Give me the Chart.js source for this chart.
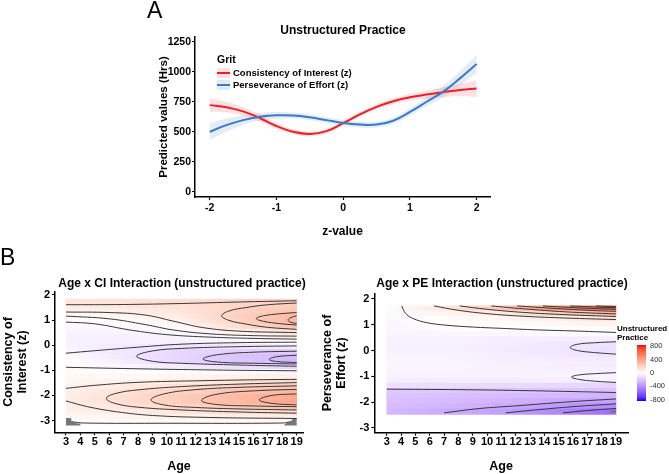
<!DOCTYPE html>
<html>
<head>
<meta charset="utf-8">
<title>Unstructured practice and grit</title>
<script src="https://cdn.jsdelivr.net/npm/chart.js@4.4.1/dist/chart.umd.min.js"></script>
<style>
  body { margin: 0; background: #fff; }
  #fig { position: relative; width: 669px; height: 474px; overflow: hidden; background: #fff;
         font-family: "Liberation Sans", Arial, sans-serif; color: #000; }
  #fig canvas { position: absolute; left: 0; top: 0; }
  .lbl { position: absolute; white-space: nowrap; line-height: 1; }
  .c { transform: translate(-50%, -50%); }
  .v { transform: translateY(-50%); }
  .b { font-weight: bold; }
</style>
</head>
<body>
<div id="fig">
  <canvas id="chartA" width="669" height="474"></canvas>
  <canvas id="chartCI" width="669" height="474"></canvas>
  <canvas id="chartPE" width="669" height="474"></canvas>

  <div class="lbl" style="left:147px;top:-1px;font-size:23px">A</div>
  <div class="lbl c b" style="left:343px;top:30px;font-size:12px">Unstructured Practice</div>
  <div class="lbl v b" style="left:217px;top:59px;font-size:10.5px">Grit</div>
  <div style="position:absolute;left:217px;top:68px;width:13px;height:10px;background:#fbe0e2"></div>
  <div style="position:absolute;left:217px;top:72px;width:13px;height:2px;background:#e8202a"></div>
  <div class="lbl v b" style="left:233px;top:73px;font-size:9.5px">Consistency of Interest (z)</div>
  <div style="position:absolute;left:217px;top:80px;width:13px;height:10px;background:#e0eaf5"></div>
  <div style="position:absolute;left:217px;top:84px;width:13px;height:2px;background:#3a7bc4"></div>
  <div class="lbl v b" style="left:233px;top:85px;font-size:9.5px">Perseverance of Effort (z)</div>

  <div class="lbl" style="left:0px;top:246px;font-size:23px">B</div>
  <div class="lbl c b" style="left:182px;top:283px;font-size:12px">Age x CI Interaction (unstructured practice)</div>
  <div class="lbl c b" style="left:502px;top:283px;font-size:12px">Age x PE Interaction (unstructured practice)</div>

  <div class="lbl v b" style="left:617px;top:329px;font-size:8px">Unstructured</div>
  <div class="lbl v b" style="left:617px;top:337.5px;font-size:8px">Practice</div>
  <div id="cbar" style="position:absolute;left:637px;top:345px;width:9px;height:56px"></div>
  <div id="cbarTicks"></div>
</div>

<script>
// -------------------------------------------------------
// PANEL A DATA (predicted hours by grit z-value)
const zValues = [-2, -1.75, -1.5, -1.25, -1, -0.75, -0.5, -0.25, 0, 0.25, 0.5, 0.75, 1, 1.25, 1.5, 1.75, 2];
const ciMean  = [722, 705, 670, 615, 548, 500, 482, 505, 572, 645, 708, 755, 787, 810, 830, 848, 860];
const ciUpper = [777, 750, 705, 645, 573, 522, 502, 525, 592, 665, 730, 780, 815, 842, 870, 900, 930];
const ciLower = [667, 660, 635, 585, 523, 478, 462, 485, 552, 625, 686, 730, 759, 778, 790, 796, 790];
const peMean  = [500, 555, 597, 625, 637, 635, 620, 597, 573, 560, 560, 592, 665, 750, 835, 945, 1065];
const peUpper = [570, 610, 637, 657, 665, 660, 644, 621, 598, 584, 584, 618, 695, 788, 883, 1005, 1140];
const peLower = [430, 500, 557, 593, 609, 610, 596, 573, 548, 536, 536, 566, 635, 712, 787, 885, 990];
const zTicksA = [-2, -1, 0, 1, 2];
const hrsTicks = [0, 250, 500, 750, 1000, 1250];

// -------------------------------------------------------
// PANEL B DATA (surface of predicted hours, age x grit)
const ageTicks = [3, 4, 5, 6, 7, 8, 9, 10, 11, 12, 13, 14, 15, 16, 17, 18, 19];
const zTicksB = [-3, -2, -1, 0, 1, 2];
const gridAges = [3, 7, 11, 15, 19];

// CI surface: one row per z, one array per age column
const ciRowZ = [1.73, 1.53, 1.33, 1.13, 0.93, 0.73, 0.53, 0.33, 0.13, -0.07, -0.27, -0.47, -0.67,
                -0.87, -1.07, -1.27, -1.47, -1.67, -1.87, -2.07, -2.27, -2.47, -2.67, -2.87, -3.07];
const ciAge3  = [110, 80, 50, 25, 0, -25, -40, -50, -50, -45, -30, -15, 0, 15, 25, 35, 45, 55, 65, 75, 80, 70, 55, 35, 15];
const ciAge7  = [120, 100, 70, 40, 10, -20, -40, -50, -55, -70, -80, -80, -60, -30, 5, 30, 60, 90, 120, 140, 140, 110, 80, 45, 20];
const ciAge11 = [140, 130, 110, 90, 60, 20, -20, -40, -50, -90, -140, -150, -140, -70, -10, 40, 80, 140, 190, 220, 220, 170, 110, 60, 25];
const ciAge15 = [170, 180, 190, 200, 190, 150, 60, 10, -30, -80, -170, -210, -200, -110, -20, 60, 120, 200, 260, 300, 300, 230, 140, 70, 30];
const ciAge19 = [190, 220, 260, 300, 310, 260, 150, 80, 20, -60, -190, -250, -260, -150, -30, 70, 160, 240, 320, 370, 380, 270, 160, 80, 30];

// PE surface
const peRowZ = [1.63, 1.43, 1.23, 1.03, 0.83, 0.63, 0.43, 0.23, 0.03, -0.17, -0.37, -0.57, -0.77,
                -0.97, -1.17, -1.37, -1.57, -1.77, -1.97, -2.17, -2.37];
const peAge3  = [-10, -20, -25, -30, -35, -40, -45, -50, -50, -45, -40, -38, -40, -45, -60, -110, -190, -210, -220, -235, -250];
const peAge7  = [100, 45, 15, 2, -15, -30, -45, -50, -50, -45, -40, -38, -40, -45, -65, -120, -195, -220, -240, -260, -295];
const peAge11 = [230, 90, 40, 15, -5, -30, -55, -65, -70, -65, -55, -45, -45, -45, -70, -130, -200, -235, -265, -295, -340];
const peAge15 = [450, 200, 70, 30, 5, -25, -60, -80, -85, -80, -65, -55, -50, -40, -60, -140, -205, -250, -310, -360, -430];
const peAge19 = [620, 310, 130, 60, 20, -10, -60, -110, -115, -95, -75, -65, -55, -35, -50, -150, -215, -270, -340, -420, -520];

// contour paths as [age, z] points
const ciContours = [
  [[3, 1.61], [7, 1.62], [11, 1.66], [15, 1.72], [19, 1.77]],
  [[19, 1.68], [17, 1.61], [15.5, 1.5], [14.3, 1.36], [13.8, 1.17], [14.3, 0.99], [15.5, 0.84], [17, 0.71], [19, 0.63]],
  [[19, 1.3], [17.8, 1.25], [16.7, 1.17], [16.2, 1.06], [16.7, 0.95], [17.8, 0.86], [19, 0.8]],
  [[19, 1.17], [18.6, 1.1], [18.4, 1.0], [18.6, 0.91], [19, 0.86]],
  [[3, 1.32], [6, 1.3], [8.5, 1.2], [10.5, 0.95], [12.5, 0.7], [15, 0.56], [19, 0.5]],
  [[3, 1.16], [6, 1.05], [8.5, 0.82], [10.5, 0.6], [13, 0.45], [16, 0.38], [19, 0.36]],
  [[3, 0.92], [5, 0.85], [7.5, 0.6], [10, 0.42], [13, 0.32], [16, 0.27], [19, 0.24]],
  [[3, -0.32], [5, -0.22], [8, -0.08], [11, 0.04], [15, 0.1], [19, 0.12]],
  [[19, -0.03], [15, -0.06], [11, -0.13], [9, -0.23], [7.9, -0.44], [9, -0.64], [11, -0.72], [15, -0.79], [19, -0.84]],
  [[19, -0.24], [16, -0.28], [13.5, -0.38], [12.5, -0.55], [13.5, -0.67], [16, -0.72], [19, -0.75]],
  [[19, -0.4], [17.6, -0.46], [17.1, -0.57], [17.6, -0.65], [19, -0.69]],
  [[3, -0.88], [7, -0.93], [11, -0.97], [15, -1.0], [19, -1.02]],
  [[3, -1.72], [5, -1.6], [8, -1.48], [12, -1.42], [16, -1.38], [19, -1.36]],
  [[19, -1.49], [15, -1.55], [11, -1.65], [8, -1.78], [6.4, -1.93], [5.8, -2.12], [6.4, -2.32], [8, -2.47], [11, -2.58], [15, -2.66], [19, -2.71]],
  [[19, -1.62], [15, -1.68], [12, -1.77], [9.8, -1.94], [8.9, -2.18], [9.8, -2.38], [12, -2.48], [15, -2.54], [19, -2.58]],
  [[19, -1.76], [16, -1.82], [13.4, -1.96], [12.4, -2.2], [13.4, -2.36], [16, -2.42], [19, -2.45]],
  [[19, -1.94], [17.3, -2.0], [16.4, -2.18], [17.3, -2.32], [19, -2.38]],
  [[3, -2.22], [4.5, -2.45], [6.5, -2.65], [9, -2.8], [13, -2.88], [19, -2.92]],
  [[3.4, -3.05], [4.2, -3.1], [10, -3.11], [18, -3.1], [18.6, -3.05]]
];
const peContours = [
  [[4.05, 1.73], [4.3, 1.45], [4.8, 1.25], [5.8, 1.08], [7.2, 0.98], [9, 0.91], [11, 0.86], [13.5, 0.8], [16, 0.76], [19, 0.7]],
  [[6.3, 1.73], [8, 1.56], [10, 1.43], [12.5, 1.33], [15.5, 1.26], [19, 1.2]],
  [[8.1, 1.73], [10, 1.6], [12.5, 1.48], [15.5, 1.39], [19, 1.32]],
  [[10.3, 1.73], [12.5, 1.62], [15.5, 1.5], [19, 1.42]],
  [[12.1, 1.73], [14.5, 1.64], [17, 1.56], [19, 1.52]],
  [[13.9, 1.73], [16.5, 1.65], [19, 1.6]],
  [[15.8, 1.73], [17.5, 1.69], [19, 1.66]],
  [[17.6, 1.73], [19, 1.7]],
  [[19, 0.34], [17.5, 0.3], [16.3, 0.24], [15.8, 0.12], [16.3, 0.0], [17.5, -0.08], [19, -0.14]],
  [[19, -0.86], [17.5, -0.9], [16.4, -0.95], [15.9, -1.03], [16.4, -1.12], [17.5, -1.19], [19, -1.24]],
  [[3, -1.5], [8, -1.52], [13, -1.56], [19, -1.63]],
  [[7, -2.42], [9.5, -2.25], [12, -2.15], [15.5, -2.0], [19, -1.88]],
  [[11.3, -2.42], [13.5, -2.3], [16, -2.18], [19, -2.07]],
  [[15.3, -2.42], [17, -2.33], [19, -2.25]]
];
// areas with no prediction (grey corners)
const ciMissing = [
  [[3, -3.2], [3, -2.9], [3.35, -2.9], [3.4, -3.05], [3.6, -3.1], [4.0, -3.13], [4.0, -3.2]],
  [[19, -3.2], [19, -2.9], [18.7, -2.95], [18.6, -3.05], [18.3, -3.1], [18.1, -3.2]]
];
const peMissing = [
  [[19, -2.42], [19, -2.3], [18.7, -2.34], [18.5, -2.42]]
];
const legendTicks = [800, 400, 0, -400, -800];
const colorLimit = 830;

// -------------------------------------------------------
// COLOUR SCALE (blue - white - red, interpolated in Lab like ggplot)
const LAB_WHITE = [100, 0, 0];
const LAB_RED = [53.24, 80.09, 67.2];
const LAB_BLUE = [32.3, 79.19, -107.86];

function labToRgb(L, a, b) {
  let y = (L + 16) / 116, x = a / 500 + y, z = y - b / 200;
  const f = t => { const t3 = t * t * t; return t3 > 0.008856 ? t3 : (t - 16 / 116) / 7.787; };
  x = 0.95047 * f(x); y = f(y); z = 1.08883 * f(z);
  const r = x * 3.2406 - y * 1.5372 - z * 0.4986;
  const g = -x * 0.9689 + y * 1.8758 + z * 0.0415;
  const bl = x * 0.0557 - y * 0.204 + z * 1.057;
  const gam = c => c > 0.0031308 ? 1.055 * Math.pow(c, 1 / 2.4) - 0.055 : 12.92 * c;
  return [r, g, bl].map(c => Math.round(255 * Math.min(1, Math.max(0, gam(c)))));
}

function valueColor(v) {
  const t = Math.max(-1, Math.min(1, v / colorLimit));
  const end = t >= 0 ? LAB_RED : LAB_BLUE;
  const k = Math.abs(t);
  const lab = LAB_WHITE.map((w, i) => w + (end[i] - w) * k);
  const [r, g, b] = labToRgb(lab[0], lab[1], lab[2]);
  return `rgb(${r},${g},${b})`;
}

// -------------------------------------------------------
// HELPERS
Chart.defaults.font.family = '"Liberation Sans", Arial, sans-serif';
Chart.defaults.color = '#000';

function axis(o) {
  return {
    type: 'linear', min: o.min, max: o.max, offset: false,
    afterBuildTicks: (scale) => { scale.ticks = o.ticks.map(v => ({ value: v })); },
    afterFit: (scale) => { if (scale.isHorizontal()) scale.height = o.size; else scale.width = o.size; },
    grid: { display: true, offset: false, drawOnChartArea: false, drawTicks: true, tickLength: 3,
            tickWidth: 1.2, tickColor: '#000' },
    border: { display: true, color: '#000', width: 1.5 },
    ticks: { font: { size: o.tickSize, weight: 'bold' }, color: '#000', padding: o.tickPad,
             autoSkip: false, maxRotation: 0, callback: v => String(v) },
    title: { display: true, text: o.title, color: '#000',
             font: { size: o.titleSize, weight: 'bold', lineHeight: o.titleLH || 1.2 },
             padding: { top: o.titlePad, bottom: 0 } }
  };
}

const pts = (xs, ys) => xs.map((x, i) => ({ x, y: ys[i] }));

function rowGradient(c, cols) {
  if (c.type !== 'data' || !c.chart.chartArea) return 'rgba(0,0,0,0)';
  const xs = c.chart.scales.x;
  const a0 = gridAges[0], a1 = gridAges[gridAges.length - 1];
  const g = c.chart.ctx.createLinearGradient(xs.getPixelForValue(a0), 0, xs.getPixelForValue(a1), 0);
  gridAges.forEach((a, k) => g.addColorStop((a - a0) / (a1 - a0), valueColor(cols[k][c.dataIndex])));
  return g;
}

function heatmapDataset(rowZ, cols, thickness) {
  return {
    type: 'bar', indexAxis: 'y', order: 10, grouped: false,
    data: rowZ.map(z => ({ y: z, x: [gridAges[0], gridAges[gridAges.length - 1]] })),
    barThickness: thickness, borderWidth: 0, borderSkipped: false,
    backgroundColor: c => rowGradient(c, cols)
  };
}

function contourDatasets(paths) {
  return paths.map(p => ({
    type: 'line', order: 0, data: p.map(([x, y]) => ({ x, y })),
    borderColor: '#383838', borderWidth: 1, pointRadius: 0, tension: 0.4, fill: false
  }));
}

function missingDatasets(polys) {
  return polys.map(p => ({
    type: 'line', order: 5, data: p.map(([x, y]) => ({ x, y })),
    borderWidth: 0, borderColor: 'rgba(0,0,0,0)', backgroundColor: '#777777',
    pointRadius: 0, tension: 0, fill: 'shape'
  }));
}

const baseOptions = (padding, scales) => ({
  responsive: false, animation: false, events: [],
  layout: { padding },
  plugins: { legend: { display: false }, tooltip: { enabled: false } },
  scales
});

// -------------------------------------------------------
// PANEL A
new Chart(document.getElementById('chartA'), {
  type: 'line',
  data: {
    datasets: [
      { data: pts(zValues, ciLower), borderWidth: 0, pointRadius: 0, tension: 0.4, fill: false, order: 2 },
      { data: pts(zValues, ciUpper), borderWidth: 0, pointRadius: 0, tension: 0.4, fill: '-1',
        backgroundColor: 'rgba(236,60,75,0.16)', order: 2 },
      { data: pts(zValues, peLower), borderWidth: 0, pointRadius: 0, tension: 0.4, fill: false, order: 2 },
      { data: pts(zValues, peUpper), borderWidth: 0, pointRadius: 0, tension: 0.4, fill: '-1',
        backgroundColor: 'rgba(70,130,200,0.15)', order: 2 },
      { label: 'Consistency of Interest (z)', data: pts(zValues, ciMean), borderColor: '#e8202a',
        borderWidth: 2, pointRadius: 0, tension: 0.4, fill: false, order: 1 },
      { label: 'Perseverance of Effort (z)', data: pts(zValues, peMean), borderColor: '#3a7bc4',
        borderWidth: 2, pointRadius: 0, tension: 0.4, fill: false, order: 0 }
    ]
  },
  options: baseOptions({ left: 154.7, right: 179, top: 37, bottom: 235.1 }, {
    x: axis({ min: -2.22, max: 2.2, ticks: zTicksA, size: 41.9, tickSize: 10.5, tickPad: 2,
              title: 'z-value', titleSize: 12, titlePad: 0 }),
    y: axis({ min: -44, max: 1290, ticks: hrsTicks, size: 40.3, tickSize: 10.5, tickPad: 1,
              title: 'Predicted values (Hrs)', titleSize: 11.5, titlePad: 2 })
  })
});

// -------------------------------------------------------
// PANEL B — CI
new Chart(document.getElementById('chartCI'), {
  type: 'line',
  data: {
    datasets: [
      heatmapDataset(ciRowZ, [ciAge3, ciAge7, ciAge11, ciAge15, ciAge19], 5.4),
      ...missingDatasets(ciMissing),
      ...contourDatasets(ciContours)
    ]
  },
  options: baseOptions({ left: 0, right: 366, top: 291.7, bottom: 0 }, {
    x: axis({ min: 2.24, max: 19.44, ticks: ageTicks, size: 41.7, tickSize: 11, tickPad: 0,
              title: 'Age', titleSize: 12.5, titlePad: 0 }),
    y: axis({ min: -3.47, max: 2.13, ticks: zTicksB, size: 55, tickSize: 11, tickPad: 2,
              title: ['Consistency of', 'Interest (z)'], titleSize: 12.5, titleLH: 1.1, titlePad: 2 })
  })
});

// -------------------------------------------------------
// PANEL B — PE
new Chart(document.getElementById('chartPE'), {
  type: 'line',
  data: {
    datasets: [
      heatmapDataset(peRowZ, [peAge3, peAge7, peAge11, peAge15, peAge19], 5.5),
      ...missingDatasets(peMissing),
      ...contourDatasets(peContours)
    ]
  },
  options: baseOptions({ left: 319, right: 41, top: 293.3, bottom: 0 }, {
    x: axis({ min: 2.13, max: 19.84, ticks: ageTicks, size: 41.3, tickSize: 11, tickPad: 0,
              title: 'Age', titleSize: 12.5, titlePad: 0 }),
    y: axis({ min: -3.19, max: 2.22, ticks: zTicksB, size: 55.3, tickSize: 11, tickPad: 2,
              title: ['Perseverance of', 'Effort (z)'], titleSize: 12.5, titleLH: 1.1, titlePad: 2 })
  })
});

// -------------------------------------------------------
// COLOUR BAR LEGEND
const barTop = 345, barHeight = 56;
const stops = [];
for (let i = 0; i <= 20; i++) {
  const v = colorLimit - i * (2 * colorLimit / 20);
  stops.push(`${valueColor(v)} ${i * 5}%`);
}
document.getElementById('cbar').style.background = `linear-gradient(to bottom, ${stops.join(',')})`;
const tickBox = document.getElementById('cbarTicks');
legendTicks.forEach(v => {
  const el = document.createElement('div');
  el.className = 'lbl v';
  el.style.left = '650px';
  el.style.top = (barTop + (colorLimit - v) / (2 * colorLimit) * barHeight) + 'px';
  el.style.fontSize = '7.5px';
  el.style.color = '#333';
  el.textContent = String(v);
  tickBox.appendChild(el);
});
</script>
</body>
</html>
